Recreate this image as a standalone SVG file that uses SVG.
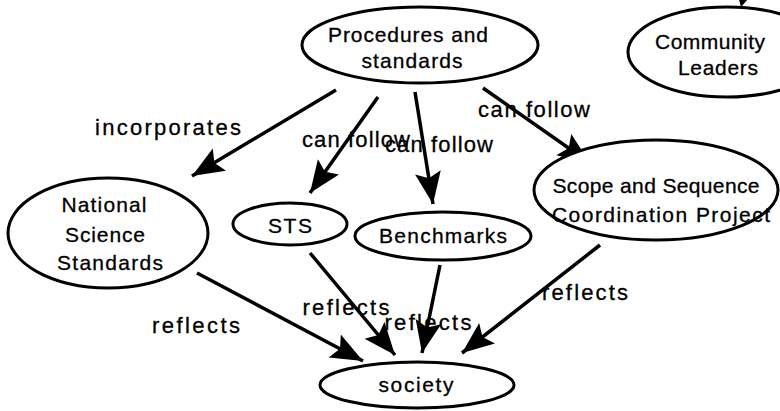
<svg xmlns="http://www.w3.org/2000/svg" width="780" height="411" viewBox="0 0 780 411">
  <style>
    .node ellipse { fill: #fff; stroke: #000; stroke-width: 3; }
    .node text, .label { font-family: "Liberation Sans", Arial, sans-serif; font-size: 21px; fill: #000; stroke: #000; stroke-width: 0.3; text-anchor: middle; }
    .label { font-size: 22px; }
    .edge { stroke: #000; stroke-width: 3.5; fill: none; marker-end: url(#head); }
  </style>
  <defs>
    <marker id="head" markerUnits="userSpaceOnUse" markerWidth="34" markerHeight="28" refX="32" refY="13" orient="auto">
      <path d="M0,0 L32,13 L0,26 L6,13 z" fill="#000"/>
    </marker>
  </defs>
  <rect width="780" height="411" fill="#fff"/>

  <g id="connectors">
    <line class="edge" x1="336" y1="90" x2="192" y2="176"/>
    <line class="edge" x1="378" y1="97" x2="310" y2="193"/>
    <line class="edge" x1="415" y1="92" x2="433" y2="204"/>
    <line class="edge" x1="483" y1="88" x2="590" y2="163"/>
    <line class="edge" x1="197" y1="273" x2="363" y2="361"/>
    <line class="edge" x1="310" y1="253" x2="395" y2="355"/>
    <line class="edge" x1="440" y1="265" x2="422" y2="353"/>
    <line class="edge" x1="600" y1="245" x2="462" y2="353"/>
    <!-- tip of an arrow entering Community Leaders from above -->
    <path d="M738,-4 L748,-1 L741,7 z" fill="#000"/>
  </g>

  <g id="procedures" class="node">
    <ellipse cx="420" cy="45" rx="118" ry="38"/>
    <text x="408" y="42" textLength="160" lengthAdjust="spacing">Procedures and</text>
    <text x="412" y="68" textLength="101" lengthAdjust="spacing">standards</text>
  </g>

  <g id="community" class="node">
    <ellipse cx="727" cy="52" rx="99" ry="45"/>
    <text x="710" y="49" textLength="110" lengthAdjust="spacing">Community</text>
    <text x="718" y="75" textLength="80" lengthAdjust="spacing">Leaders</text>
  </g>

  <g id="nss" class="node">
    <ellipse cx="108" cy="233" rx="100" ry="55"/>
    <text x="104" y="212" textLength="85" lengthAdjust="spacing">National</text>
    <text x="105" y="242" textLength="80" lengthAdjust="spacing">Science</text>
    <text x="110" y="270" textLength="106" lengthAdjust="spacing">Standards</text>
  </g>

  <g id="sts" class="node">
    <ellipse cx="290" cy="224" rx="57" ry="21"/>
    <text x="290" y="233" textLength="44" lengthAdjust="spacing">STS</text>
  </g>

  <g id="benchmarks" class="node">
    <ellipse cx="443" cy="236" rx="88" ry="24"/>
    <text x="443" y="243" textLength="128" lengthAdjust="spacing">Benchmarks</text>
  </g>

  <g id="scope" class="node">
    <ellipse cx="656" cy="190" rx="122" ry="50"/>
    <text x="656" y="193" textLength="207" lengthAdjust="spacing">Scope and Sequence</text>
    <text x="661" y="222" textLength="218" lengthAdjust="spacing">Coordination  Project</text>
  </g>

  <g id="society" class="node">
    <ellipse cx="417" cy="385" rx="97" ry="23"/>
    <text x="416" y="392" textLength="75" lengthAdjust="spacing">society</text>
  </g>

  <g id="labels">
    <text class="label" x="168" y="135" textLength="146" lengthAdjust="spacing">incorporates</text>
    <text class="label" x="356" y="147" textLength="108" lengthAdjust="spacing">can follow</text>
    <text class="label" x="439" y="152" textLength="108" lengthAdjust="spacing">can follow</text>
    <text class="label" x="534" y="117" textLength="112" lengthAdjust="spacing">can follow</text>
    <text class="label" x="196" y="333" textLength="88" lengthAdjust="spacing">reflects</text>
    <text class="label" x="346" y="315" textLength="87" lengthAdjust="spacing">reflects</text>
    <text class="label" x="428" y="330" textLength="87" lengthAdjust="spacing">reflects</text>
    <text class="label" x="585" y="300" textLength="86" lengthAdjust="spacing">reflects</text>
  </g>
</svg>
